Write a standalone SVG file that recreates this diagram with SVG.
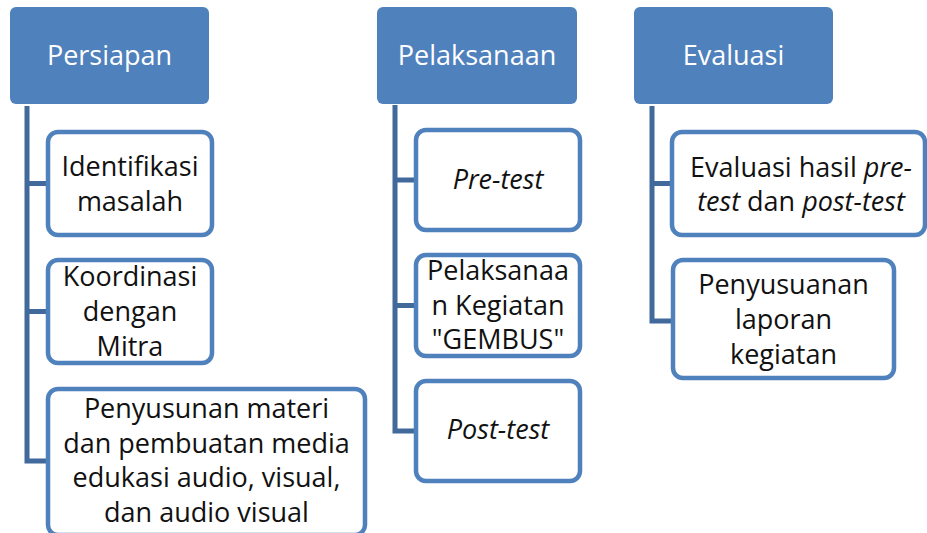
<svg xmlns="http://www.w3.org/2000/svg" width="927" height="533" viewBox="0 0 927 533">
  <style>
    .head { fill: #4F81BD; }
    .head-text { fill: #FFFFFF; font-family: "Open Sans", "Noto Sans", sans-serif; font-size: 27px; text-anchor: middle; }
    .box { fill: #FFFFFF; stroke: #4F81BD; stroke-width: 4.5; }
    .box-text { fill: #111111; font-family: "Open Sans", "Noto Sans", sans-serif; font-size: 27px; text-anchor: middle; }
    .it { font-style: italic; }
    .link { fill: none; stroke: #42699B; stroke-width: 5; stroke-linejoin: miter; }
  </style>

  <!-- tree connectors -->
  <g id="connectors">
    <path class="link" d="M27,106 V461 H48 M27,183.5 H48 M27,311.5 H48"/>
    <path class="link" d="M395,105 V431 H416 M395,180 H416 M395,305.5 H416"/>
    <path class="link" d="M652,106 V321 H673 M652,183.5 H673"/>
  </g>

  <!-- column 1 -->
  <g id="persiapan">
    <rect class="head" x="10" y="7" width="199" height="97" rx="6"/>
    <text class="head-text" x="109.5" y="65">Persiapan</text>
  </g>
  <g id="identifikasi">
    <rect class="box" x="48" y="132" width="164" height="103" rx="10"/>
    <text class="box-text" x="130" y="176">Identifikasi</text>
    <text class="box-text" x="130" y="211">masalah</text>
  </g>
  <g id="koordinasi">
    <rect class="box" x="48" y="260" width="164" height="103" rx="10"/>
    <text class="box-text" x="130" y="286">Koordinasi</text>
    <text class="box-text" x="130" y="321">dengan</text>
    <text class="box-text" x="130" y="356">Mitra</text>
  </g>
  <g id="penyusunan-materi">
    <rect class="box" x="48" y="389" width="317" height="146" rx="10"/>
    <text class="box-text" x="206.5" y="418">Penyusunan materi</text>
    <text class="box-text" x="206.5" y="453">dan pembuatan media</text>
    <text class="box-text" x="206.5" y="487">edukasi audio, visual,</text>
    <text class="box-text" x="206.5" y="522">dan audio visual</text>
  </g>

  <!-- column 2 -->
  <g id="pelaksanaan">
    <rect class="head" x="377" y="7" width="200" height="97" rx="6"/>
    <text class="head-text" x="477" y="65">Pelaksanaan</text>
  </g>
  <g id="pre-test">
    <rect class="box" x="416" y="130" width="164" height="100" rx="10"/>
    <text class="box-text it" x="498" y="189">Pre-test</text>
  </g>
  <g id="kegiatan">
    <rect class="box" x="416" y="255" width="164" height="101" rx="10"/>
    <text class="box-text" x="498" y="280">Pelaksanaa</text>
    <text class="box-text" x="498" y="315">n Kegiatan</text>
    <text class="box-text" x="498" y="349">"GEMBUS"</text>
  </g>
  <g id="post-test">
    <rect class="box" x="416" y="381" width="164" height="100" rx="10"/>
    <text class="box-text it" x="498" y="439">Post-test</text>
  </g>

  <!-- column 3 -->
  <g id="evaluasi">
    <rect class="head" x="634" y="7" width="199" height="97" rx="6"/>
    <text class="head-text" x="733.5" y="65">Evaluasi</text>
  </g>
  <g id="evaluasi-hasil">
    <rect class="box" x="672" y="132" width="253" height="103" rx="10"/>
    <text class="box-text" x="801" y="177">Evaluasi hasil <tspan class="it">pre-</tspan></text>
    <text class="box-text" x="801" y="211"><tspan class="it">test</tspan> dan <tspan class="it">post-test</tspan></text>
  </g>
  <g id="laporan">
    <rect class="box" x="673" y="260" width="221" height="118" rx="10"/>
    <text class="box-text" x="783.5" y="294">Penyusuanan</text>
    <text class="box-text" x="783.5" y="329">laporan</text>
    <text class="box-text" x="783.5" y="364">kegiatan</text>
  </g>
</svg>
